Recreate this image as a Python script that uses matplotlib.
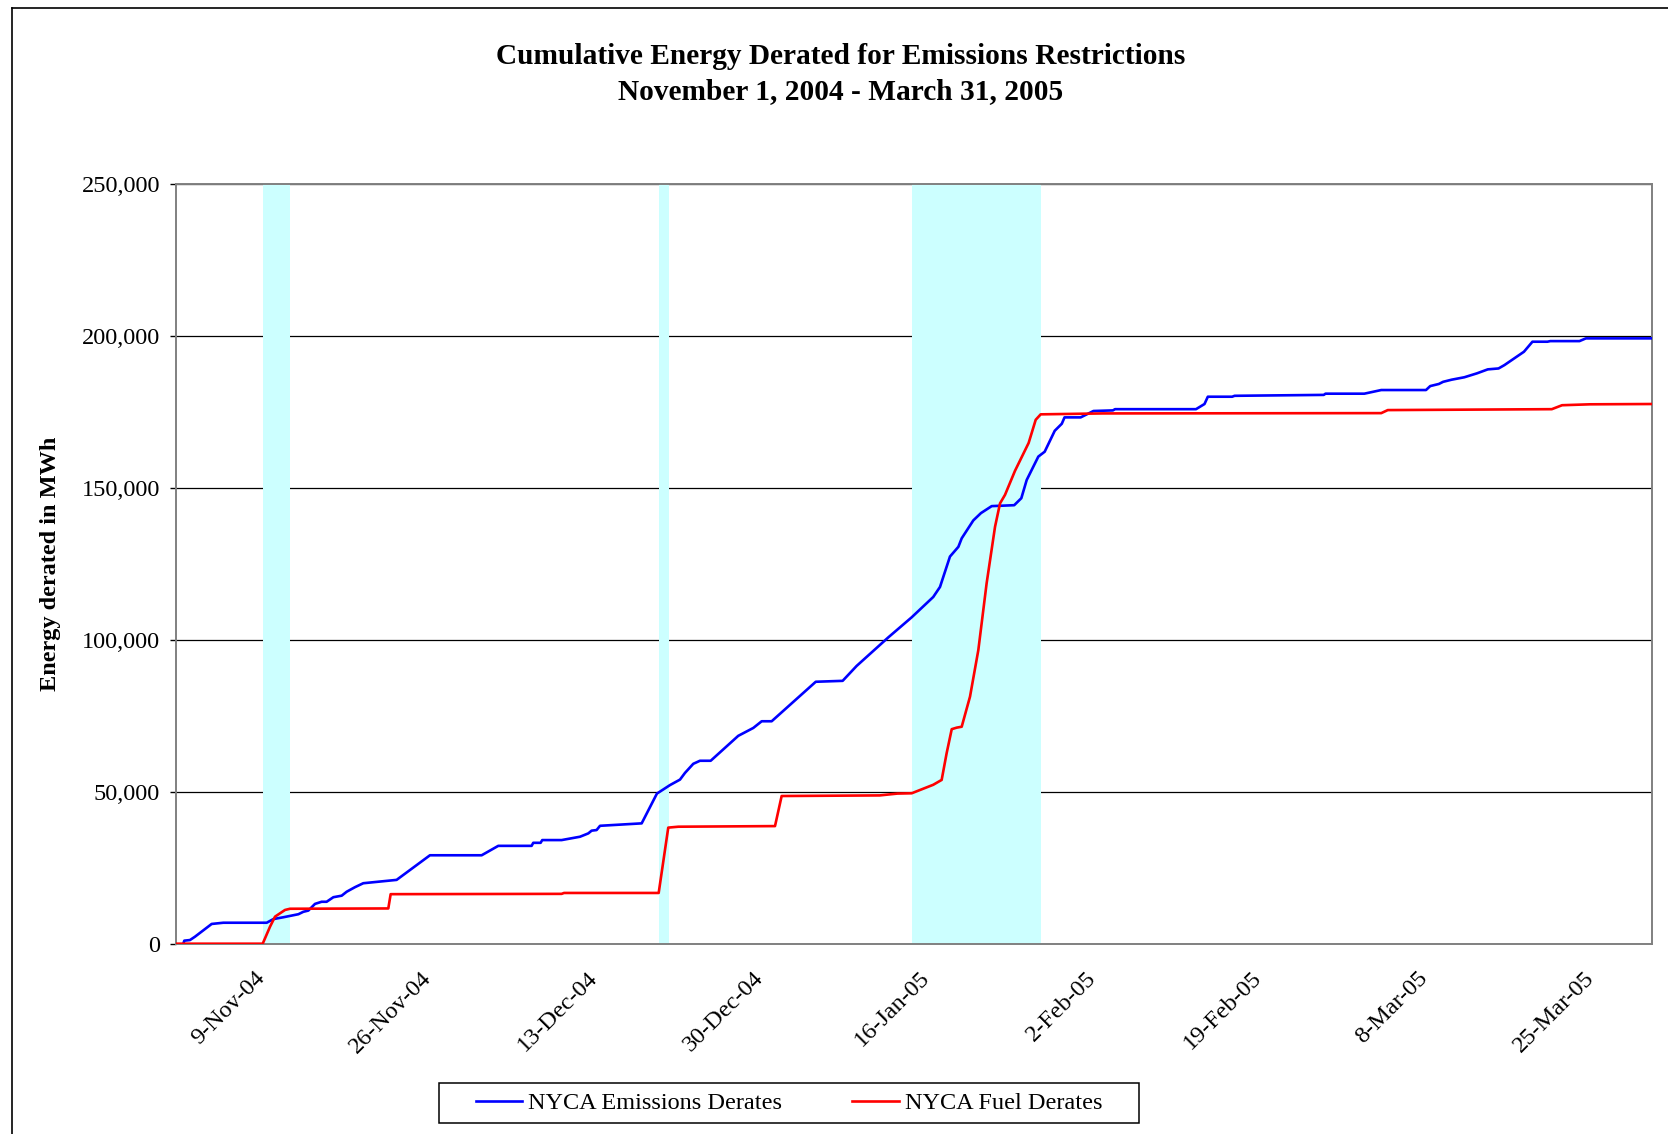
import matplotlib
matplotlib.use("Agg")
import matplotlib.pyplot as plt
import matplotlib.ticker as mticker
from matplotlib.patches import Rectangle
import numpy as np

# cumulative derates: day offset from 1-Nov-04, MWh
emis_day = [0.75, 0.85, 1.43, 1.94, 3.65, 4.84, 9.28, 9.96, 10.98, 12.52, 13.03, 13.54,
            14.22, 14.9, 15.41, 16.1, 16.95, 17.46, 18.31, 19.16, 22.57, 25.98, 31.27,
            32.97, 36.38, 36.55, 37.3, 37.47, 39.45, 41.33, 42.18, 42.52, 43.03, 43.38,
            47.64, 49.2, 50.54, 51.56, 52.07, 52.92, 53.6, 54.7, 57.52, 59.06, 59.92,
            60.94, 65.45, 68.2, 69.63, 72.87, 75.26, 77.47, 78.16, 79.18, 80.04, 80.38,
            81.57, 82.35, 83.45, 85.75, 86.48, 87.03, 88.22, 88.87, 89.9, 90.62, 90.9,
            92.55, 93.86, 95.85, 96.07, 104.35, 105.22, 105.56, 108.05, 108.3, 117.42,
            117.6, 121.57, 123.3, 127.88, 128.31, 129.2, 129.63, 130.5, 131.8, 133.1,
            134.2, 135.3, 135.9, 137.9, 138.77, 140.3, 140.6, 143.58, 144.24, 151.0]
emis_mwh = [0, 1000, 1200, 2300, 6500, 6900, 6900, 8100, 8700, 9700, 10500, 10900,
            13100, 13800, 13800, 15300, 15800, 17100, 18600, 19900, 21000, 29100, 29100,
            32200, 32200, 33200, 33200, 34100, 34100, 35200, 36300, 37200, 37400, 38800,
            39600, 49400, 52200, 54000, 56200, 59200, 60200, 60200, 68400, 71000, 73200,
            73200, 86200, 86500, 91400, 100800, 107400, 114100, 117400, 127400, 130600, 133400,
            139300, 141700, 144000, 144300, 146600, 152600, 160300, 161900, 168800, 171100, 173200,
            173200, 175300, 175500, 175900, 175900, 177600, 180000, 180000, 180300, 180600,
            181000, 181000, 182200, 182200, 183500, 184200, 184900, 185600, 186400, 187700,
            189000, 189300, 190400, 194800, 198100, 198100, 198300, 198300, 199200, 199200]

fuel_day = [0.05, 8.87, 9.62, 10.13, 11.15, 11.66, 21.72, 21.96, 39.45, 39.7, 49.38,
            50.36, 51.39, 61.28, 61.96, 72.0, 73.8, 75.26, 77.47, 78.33, 78.84, 79.36,
            79.87, 80.38, 81.23, 82.08, 82.93, 83.79, 84.3, 84.81, 85.83, 87.23, 87.95,
            88.46, 94.8, 123.3, 123.97, 140.75, 141.8, 144.65, 151.0]
fuel_mwh = [0, 0, 5600, 8900, 11100, 11500, 11600, 16300, 16400, 16700, 16700,
            38200, 38500, 38700, 48600, 48800, 49400, 49500, 52300, 53900, 62700, 70600,
            71100, 71400, 81300, 96600, 118600, 137200, 144900, 147700, 155600, 164800, 172400,
            174200, 174500, 174600, 175600, 175900, 177200, 177500, 177600]

# shaded periods
span_start = ["2004-11-09T21:00", "2004-12-20T10:00", "2005-01-15T06:00"]
span_end = ["2004-11-12T15:00", "2004-12-21T11:00", "2005-01-28T12:00"]

tick_dates = ["2004-11-09", "2004-11-26", "2004-12-13", "2004-12-30", "2005-01-16",
              "2005-02-02", "2005-02-19", "2005-03-08", "2005-03-25"]
tick_labels = ["9-Nov-04", "26-Nov-04", "13-Dec-04", "30-Dec-04", "16-Jan-05",
               "2-Feb-05", "19-Feb-05", "8-Mar-05", "25-Mar-05"]

start = np.datetime64("2004-11-01T00:00")


def to_dates(days):
    return start + (np.array(days) * 1440).astype(int).astype("timedelta64[m]")


plt.rcParams["font.family"] = ["Liberation Serif", "DejaVu Serif"]
W, H = 1668, 1134
fig = plt.figure(figsize=(W / 100, H / 100), dpi=100)
ax = fig.add_axes([176 / W, 1 - 943.7 / H, (1652 - 176) / W, (943.7 - 184) / H])

ax.set_axisbelow(True)
ax.grid(axis="y", color="black", linewidth=0.9)
for s, e in zip(span_start, span_end):
    ax.axvspan(np.datetime64(s), np.datetime64(e), color="#CCFFFF", linewidth=0, zorder=1)

ax.plot(to_dates(emis_day), emis_mwh, color="#0000FF", lw=1.9, label="NYCA Emissions Derates", zorder=3)
ax.plot(to_dates(fuel_day), fuel_mwh, color="#FF0000", lw=1.9, label="NYCA Fuel Derates", zorder=3)

ax.set_xlim(np.datetime64("2004-11-01"), np.datetime64("2005-04-01"))
ax.set_ylim(0, 250000)
ax.yaxis.set_major_locator(mticker.MultipleLocator(50000))
ax.yaxis.set_major_formatter(mticker.StrMethodFormatter("{x:,.0f}"))
ax.set_xticks(np.array(tick_dates, dtype="datetime64[D]"))
ax.set_xticklabels(tick_labels, rotation=45, ha="right", rotation_mode="anchor")
ax.tick_params(axis="x", length=0, pad=17, labelsize=17.5)
ax.tick_params(axis="y", length=4.5, width=1, pad=7, labelsize=17.5)
for sp in ax.spines.values():
    sp.set_color("#808080")
    sp.set_linewidth(1.4)

fig.text(841 / W, 1 - 56 / H, "Cumulative Energy Derated for Emissions Restrictions",
         ha="center", va="center", fontsize=21.2, fontweight="bold")
fig.text(841 / W, 1 - 92 / H, "November 1, 2004 - March 31, 2005",
         ha="center", va="center", fontsize=21.2, fontweight="bold")
fig.text(51 / W, 1 - 564 / H, "Energy derated in MWh", rotation=90, ha="center", va="center",
         fontsize=17.5, fontweight="bold")

leg = fig.legend(loc="center", bbox_to_anchor=(789 / W, 1 - 1103 / H), ncol=2, frameon=False,
                 fontsize=17.5, handlelength=1.9, handletextpad=0.25, columnspacing=2.9)

# legend box, square corners, a bit wider than the entries
fig.canvas.draw()
bb = leg.get_window_extent()
fig.add_artist(Rectangle((bb.x0 - 27, 1134 - 1123), bb.width + 54, 40, transform=None,
                         fill=False, edgecolor="black", linewidth=1.1))

# outer frame (left and top edges visible)
fig.add_artist(plt.Line2D([12 / W, 12 / W], [0, 1 - 8 / H], color="black", lw=1.2))
fig.add_artist(plt.Line2D([12 / W, 1], [1 - 8 / H, 1 - 8 / H], color="black", lw=1.2))

fig.savefig("out.png", dpi=100)
